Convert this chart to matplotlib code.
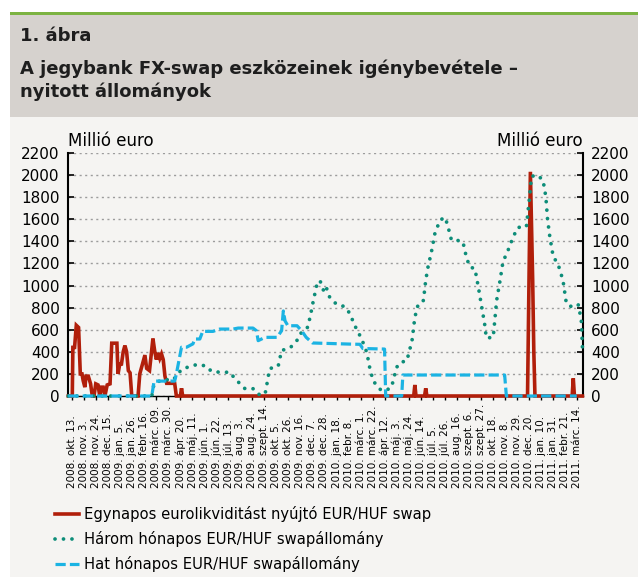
import matplotlib
matplotlib.use('Agg')  # no display
import matplotlib.pyplot as plt
import matplotlib.transforms as mtransforms
from matplotlib.lines import Line2D
from matplotlib.patches import Rectangle
import pandas as pd

# Egynapos eurolikviditást nyújtó EUR/HUF swap (millió euro)
red_dates = ["2008-10-06", "2008-10-13", "2008-10-14", "2008-10-17", "2008-10-20", "2008-10-24",
             "2008-10-27", "2008-10-30", "2008-11-01", "2008-11-04", "2008-11-06", "2008-11-10",
             "2008-11-14", "2008-11-17", "2008-11-20", "2008-11-23", "2008-11-27", "2008-11-30",
             "2008-12-03", "2008-12-06", "2008-12-09", "2008-12-13", "2008-12-18", "2008-12-21",
             "2008-12-30", "2009-01-01", "2009-01-04", "2009-01-07", "2009-01-10", "2009-01-13",
             "2009-01-16", "2009-01-19", "2009-01-22", "2009-01-25", "2009-02-05", "2009-02-08",
             "2009-02-17", "2009-02-20", "2009-02-25", "2009-03-03", "2009-03-06", "2009-03-09",
             "2009-03-12", "2009-03-15", "2009-03-18", "2009-03-21", "2009-03-24", "2009-03-27",
             "2009-04-10", "2009-04-13", "2009-04-20", "2009-04-22", "2009-04-24", "2010-06-02",
             "2010-06-04", "2010-06-06", "2010-06-21", "2010-06-23", "2010-06-25", "2010-12-18",
             "2010-12-23", "2010-12-27", "2010-12-29", "2010-12-31", "2011-03-06", "2011-03-08",
             "2011-03-10", "2011-03-24"]
red_values = [0, 0, 440, 440, 640, 620,
              200, 200, 140, 80, 180, 180,
              110, 0, 0, 110, 100, 0,
              80, 80, 0, 100, 110, 478,
              478, 200, 290, 290, 400, 457,
              400, 230, 210, 0, 0, 200,
              370, 250, 230, 520, 410, 330,
              390, 340, 380, 330, 180, 115,
              115, 0, 0, 70, 0, 0,
              100, 0, 0, 70, 0, 0,
              2030, 1050, 400, 0, 0, 160,
              0, 0]

# Három hónapos EUR/HUF swapállomány
teal_dates = ["2008-10-06", "2009-03-01", "2009-03-05", "2009-03-21", "2009-04-07", "2009-04-22",
              "2009-05-07", "2009-05-21", "2009-06-05", "2009-06-13", "2009-06-28", "2009-07-16",
              "2009-07-24", "2009-08-02", "2009-08-11", "2009-08-25", "2009-09-03", "2009-09-15",
              "2009-09-18", "2009-09-23", "2009-10-08", "2009-10-14", "2009-10-29", "2009-11-12",
              "2009-11-15", "2009-11-29", "2009-12-05", "2009-12-08", "2009-12-14", "2009-12-20",
              "2009-12-26", "2009-12-30", "2010-01-06", "2010-01-18", "2010-02-01", "2010-02-10",
              "2010-02-19", "2010-03-03", "2010-03-12", "2010-03-17", "2010-03-23", "2010-04-04",
              "2010-04-12", "2010-04-24", "2010-05-03", "2010-05-09", "2010-05-21", "2010-05-30",
              "2010-06-04", "2010-06-10", "2010-06-19", "2010-06-23", "2010-06-27", "2010-07-03",
              "2010-07-09", "2010-07-18", "2010-07-27", "2010-08-01", "2010-08-07", "2010-08-16",
              "2010-08-27", "2010-09-02", "2010-09-08", "2010-09-17", "2010-09-23", "2010-09-29",
              "2010-10-04", "2010-10-07", "2010-10-19", "2010-10-25", "2010-10-31", "2010-11-05",
              "2010-11-14", "2010-11-23", "2010-12-01", "2010-12-16", "2010-12-21", "2010-12-25",
              "2011-01-03", "2011-01-14", "2011-01-19", "2011-01-22", "2011-01-26", "2011-02-01",
              "2011-02-09", "2011-02-18", "2011-02-24", "2011-03-08", "2011-03-17", "2011-03-22",
              "2011-03-24"]
teal_values = [0, 0, 113, 150, 143, 240,
               269, 287, 269, 224, 215, 215,
               158, 113, 66, 66, 15, 15,
               98, 248, 269, 412, 436, 516,
               560, 625, 770, 850, 994, 1047,
               960, 1000, 895, 830, 810, 750,
               637, 516, 394, 258, 137, 61,
               46, 76, 258, 303, 319, 500,
               713, 834, 865, 1047, 1168, 1305,
               1471, 1593, 1617, 1532, 1411, 1411,
               1396, 1259, 1168, 1153, 986, 804,
               652, 525, 531, 865, 1047, 1214,
               1320, 1441, 1526, 1532, 1775, 1987,
               2002, 1957, 1805, 1600, 1441, 1259,
               1200, 1047, 834, 800, 825, 683,
               440]

# Hat hónapos EUR/HUF swapállomány
cyan_dates = ["2008-10-06", "2009-03-01", "2009-03-05", "2009-04-10", "2009-04-13", "2009-04-22",
              "2009-05-01", "2009-05-12", "2009-05-15", "2009-05-24", "2009-05-29", "2009-06-16",
              "2009-06-28", "2009-07-21", "2009-07-30", "2009-08-25", "2009-08-31", "2009-09-03",
              "2009-09-15", "2009-10-06", "2009-10-14", "2009-10-17", "2009-10-20", "2009-10-25",
              "2009-11-10", "2009-11-18", "2009-11-26", "2009-12-07", "2010-02-10", "2010-02-28",
              "2010-03-05", "2010-04-12", "2010-04-14", "2010-05-12", "2010-05-14", "2010-11-08",
              "2010-11-11", "2011-03-14"]
cyan_values = [0, 0, 135, 135, 200, 442,
               442, 472, 516, 516, 585, 585,
               606, 606, 615, 615, 591, 501,
               531, 531, 591, 770, 680, 636,
               636, 591, 531, 480, 470, 468,
               430, 425, 0, 0, 190, 190,
               0, 0]

tick_labels = ["2008. okt. 13.", "2008. nov. 3.", "2008. nov. 24.", "2008. dec. 15.",
               "2009. jan. 5.", "2009. jan. 26.", "2009. febr. 16.", "2009. márc. 09.",
               "2009. márc. 30.", "2009. ápr. 20.", "2009. máj. 11.", "2009. jún. 1.",
               "2009. jún. 22.", "2009. júl. 13.", "2009. aug. 3.", "2009. aug. 24.",
               "2009. szept. 14.", "2009. okt. 5.", "2009. okt. 26.", "2009. nov. 16.",
               "2009. dec. 7.", "2009. dec. 28.", "2010. jan. 18.", "2010. febr. 8.",
               "2010. márc. 1.", "2010. márc. 22.", "2010. ápr. 12.", "2010. máj. 3.",
               "2010. máj. 24.", "2010. jún. 14.", "2010. júl. 5.", "2010. júl. 26.",
               "2010. aug. 16.", "2010. szept. 6.", "2010. szept. 27.", "2010. okt. 18.",
               "2010. nov. 8.", "2010. nov. 29.", "2010. dec. 20.", "2011. jan. 10.",
               "2011. jan. 31.", "2011. febr. 21.", "2011. márc. 14."]
tick_dates = pd.date_range("2008-10-13", periods=len(tick_labels), freq="21D")

series_labels = ["Egynapos eurolikviditást nyújtó EUR/HUF swap",
                 "Három hónapos EUR/HUF swapállomány",
                 "Hat hónapos EUR/HUF swapállomány"]

RED = "#b11f0b"
TEAL = "#0d8d79"
CYAN = "#1bb3e3"
BG = "#f5f4f2"
HEADER = "#d6d2ce"
GREEN = "#7cb342"

plt.rcParams['font.family'] = ['DejaVu Sans']

W, H = 638, 577
fig = plt.figure(figsize=(W / 100, H / 100), dpi=100)
fig.patch.set_facecolor('white')

# Panel background, header band and green rule
fig.add_artist(Rectangle((10 / W, 0), 1, (H - 116) / H, transform=fig.transFigure,
                         facecolor=BG, edgecolor='none', zorder=0))
fig.add_artist(Rectangle((10 / W, (H - 117) / H), 1, 102 / H, transform=fig.transFigure,
                         facecolor=HEADER, edgecolor='none', zorder=0))
fig.add_artist(Rectangle((10 / W, (H - 15) / H), 1, 3 / H, transform=fig.transFigure,
                         facecolor=GREEN, edgecolor='none', zorder=0))

fig.text(20 / W, 1 - 41 / H, "1. ábra", fontsize=13, fontweight='bold', color='#1e1e1e',
         va='baseline', ha='left')
fig.text(20 / W, 1 - 74 / H, "A jegybank FX-swap eszközeinek igénybevétele –", fontsize=13,
         fontweight='bold', color='#1e1e1e', va='baseline', ha='left')
fig.text(20 / W, 1 - 97 / H, "nyitott állományok", fontsize=13, fontweight='bold',
         color='#1e1e1e', va='baseline', ha='left')

# Plot area
ax = fig.add_axes([68 / W, 1 - 396 / H, (583 - 68) / W, 243 / H])
ax.set_facecolor('none')

ax.plot(pd.to_datetime(red_dates), red_values, color=RED, lw=2.6, zorder=3,
        clip_on=False, solid_joinstyle='miter')
ax.plot(pd.to_datetime(teal_dates), teal_values, color=TEAL, lw=2.7,
        linestyle=(0, (0.01, 2.25)), dash_capstyle='round', zorder=4, clip_on=False)
ax.plot(pd.to_datetime(cyan_dates), cyan_values, color=CYAN, lw=2.3,
        linestyle=(0, (3.2, 1.3)), dash_capstyle='butt', zorder=5, clip_on=False)

ax.set_ylim(0, 2200)
ax.set_yticks(range(0, 2201, 200))
ax.set_xlim(pd.Timestamp("2008-10-05 12:00"), pd.Timestamp("2011-03-25"))
ax.set_xticks(tick_dates)
ax.set_xticklabels([])

ax.yaxis.grid(True, linestyle=(0, (1.5, 2.5)), color='#9c9c9c', lw=1)
ax.set_axisbelow(True)

for side in ['left', 'right']:
    ax.spines[side].set_linewidth(1.5)
    ax.spines[side].set_color('black')
ax.spines['bottom'].set_linewidth(1)
ax.spines['top'].set_visible(False)

ax.tick_params(axis='y', direction='in', length=4, width=1.2, labelsize=11,
               left=True, right=True, labelleft=True, labelright=True, pad=6)
ax.tick_params(axis='x', direction='out', length=3, width=1)

# Date labels, rotated, all starting from the same baseline
trans = mtransforms.blended_transform_factory(ax.transData, ax.transAxes)
for d, lab in zip(tick_dates, tick_labels):
    ax.text(d, -0.3786, lab, transform=trans, rotation=90, rotation_mode='anchor',
            ha='left', va='center', fontsize=7.5)

ax.text(0, 1.03, "Millió euro", transform=ax.transAxes, ha='left', va='baseline', fontsize=12)
ax.text(1, 1.03, "Millió euro", transform=ax.transAxes, ha='right', va='baseline', fontsize=12)

handles = [Line2D([], [], color=RED, lw=2.6),
           Line2D([], [], color=TEAL, lw=2.7, linestyle=(0, (0.01, 2.25)), dash_capstyle='round'),
           Line2D([], [], color=CYAN, lw=2.3, linestyle=(0, (3.2, 1.3)))]
fig.legend(handles, series_labels, loc='upper left', bbox_to_anchor=(55 / W, 1 - 506 / H),
           frameon=False, fontsize=10.6, handlelength=1.65, handletextpad=0.3,
           labelspacing=0.6, borderpad=0, borderaxespad=0)

fig.savefig("out.png", dpi=100, facecolor=fig.get_facecolor())
plt.close(fig)
